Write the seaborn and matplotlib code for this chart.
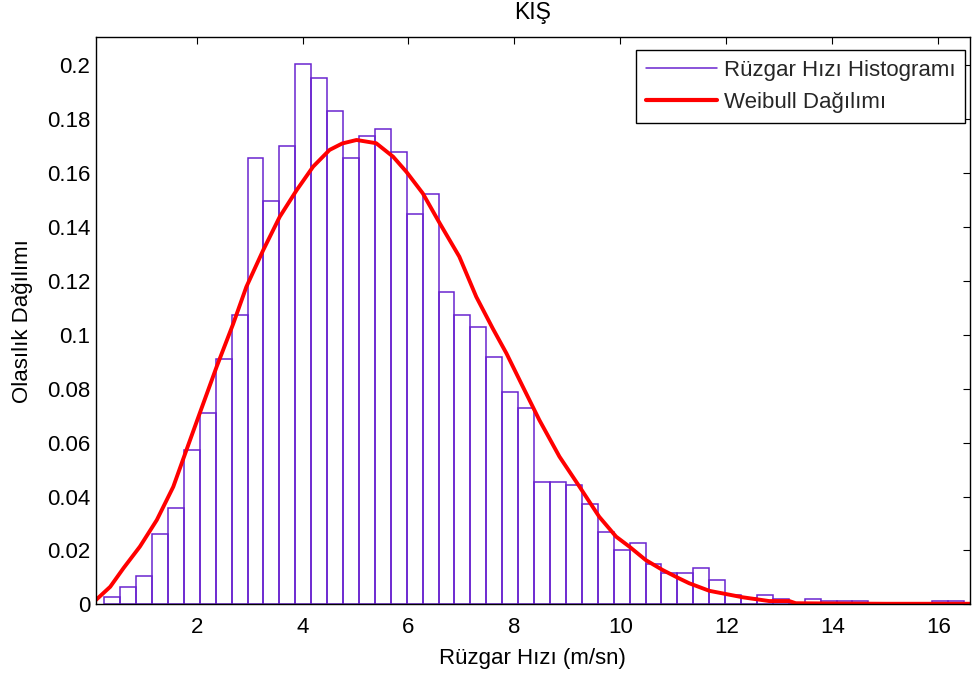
import numpy as np
import pandas as pd
import matplotlib
matplotlib.use("Agg")
import matplotlib.pyplot as plt
from matplotlib.lines import Line2D
import seaborn as sns

# ---------------- data ----------------
title = "KIŞ"
x_label = "Rüzgar Hızı (m/sn)"
y_label = "Olasılık Dağılımı"
legend_labels = ["Rüzgar Hızı Histogramı", "Weibull Dağılımı"]

# histogram: 54 equal bins
bin_first_edge = 0.258
bin_last_edge = 16.485
hist_values = [
    0.0026, 0.0065, 0.0104, 0.0260, 0.0358, 0.0574, 0.0709, 0.0911, 0.1073,
    0.1655, 0.1498, 0.1700, 0.2006, 0.1954, 0.1830, 0.1655, 0.1739, 0.1765,
    0.1680, 0.1447, 0.1524, 0.1159, 0.1075, 0.1030, 0.0919, 0.0789, 0.0730,
    0.0455, 0.0455, 0.0443, 0.0371, 0.0267, 0.0201, 0.0229, 0.0150, 0.0117,
    0.0117, 0.0136, 0.0091, 0.0033, 0.0022, 0.0033, 0.0020, 0.0006, 0.0020,
    0.0013, 0.0013, 0.0013, 0.0004, 0.0000, 0.0000, 0.0000, 0.0013, 0.0013,
]

# Weibull curve
weibull_x = [0.10, 0.37, 0.62, 0.93, 1.25, 1.56, 1.81, 2.06, 2.38, 2.69, 2.94,
             3.26, 3.57, 3.89, 4.20, 4.51, 4.75, 5.02, 5.39, 5.71, 5.96, 6.27,
             6.59, 6.96, 7.28, 7.59, 7.85, 8.16, 8.47, 8.85, 9.23, 9.60, 9.92,
             10.17, 10.48, 10.80, 11.11, 11.30, 11.68, 12.31, 12.81, 13.19,
             13.31, 14.00, 15.00, 16.60]
weibull_y = [0.0016, 0.0065, 0.0134, 0.0214, 0.0313, 0.0436, 0.0573, 0.0709,
             0.0882, 0.1040, 0.1178, 0.1315, 0.1438, 0.1537, 0.1624, 0.1686,
             0.1710, 0.1723, 0.1711, 0.1661, 0.1605, 0.1525, 0.1414, 0.1290,
             0.1141, 0.1024, 0.0931, 0.0807, 0.0684, 0.0548, 0.0436, 0.0325,
             0.0251, 0.0214, 0.0164, 0.0127, 0.0096, 0.0078, 0.0050, 0.0026,
             0.0012, 0.0012, 0.0004, 0.0003, 0.0002, 0.0002]

x_ticks = [2, 4, 6, 8, 10, 12, 14, 16]
x_tick_labels = ["2", "4", "6", "8", "10", "12", "14", "16"]
y_ticks = [0, 0.02, 0.04, 0.06, 0.08, 0.1, 0.12, 0.14, 0.16, 0.18, 0.2]
y_tick_labels = ["0", "0.02", "0.04", "0.06", "0.08", "0.1", "0.12", "0.14",
                 "0.16", "0.18", "0.2"]

# ---------------- style ----------------
sns.set_style("white")
plt.rcParams["font.family"] = ["Liberation Sans", "DejaVu Sans"]
FS = 16
HIST_COLOR = "#6a24d0"
CURVE_COLOR = "#ff0000"

n_bins = len(hist_values)
bin_width = (bin_last_edge - bin_first_edge) / n_bins
bin_centers = [bin_first_edge + bin_width * (i + 0.5) for i in range(n_bins)]
df_hist = pd.DataFrame({"hiz": bin_centers, "olasilik": hist_values})
df_curve = pd.DataFrame({"hiz": weibull_x, "pdf": weibull_y})

fig = plt.figure(figsize=(9.72, 6.79), dpi=100)
ax = fig.add_axes([95.7 / 972, 1 - 604.3 / 679, (970 - 95.7) / 972,
                   (604.3 - 37.3) / 679])

sns.histplot(data=df_hist, x="hiz", weights="olasilik",
             binwidth=bin_width, binrange=(bin_first_edge, bin_last_edge),
             stat="count", fill=False, element="bars", color=HIST_COLOR,
             linewidth=1.1, ax=ax)
for p in ax.patches:
    p.set_edgecolor(HIST_COLOR)

sns.lineplot(data=df_curve, x="hiz", y="pdf", color=CURVE_COLOR,
             linewidth=2.8, ax=ax, legend=False)

ax.set_xlim(0.096, 16.6)
ax.set_ylim(0, 0.2104)
ax.set_xticks(x_ticks)
ax.set_xticklabels(x_tick_labels)
ax.set_yticks(y_ticks)
ax.set_yticklabels(y_tick_labels)

ax.tick_params(axis="both", direction="in", length=5, width=0.8,
               top=True, right=True, labeltop=False, labelright=False,
               labelsize=FS, colors="black")
ax.tick_params(axis="x", pad=9.5)
ax.tick_params(axis="y", pad=4)
for s in ax.spines.values():
    s.set_visible(True)
    s.set_color("black")
    s.set_linewidth(1.0)

ax.set_title(title, fontsize=FS + 0.5, pad=13.5, color="black")
ax.set_xlabel(x_label, fontsize=FS, labelpad=6.5, color="black")
ax.set_ylabel(y_label, fontsize=FS, labelpad=10, color="black")

handles = [Line2D([], [], color=HIST_COLOR, lw=1.1),
           Line2D([], [], color=CURVE_COLOR, lw=3.0)]
leg = ax.legend(handles, legend_labels, loc="upper right",
                bbox_to_anchor=(0.9945, 0.978), borderaxespad=0,
                fontsize=FS, frameon=True, fancybox=False, shadow=False,
                framealpha=1, edgecolor="black", handlelength=3.2,
                handletextpad=0.3, labelspacing=0.5, borderpad=0.45)
leg.get_frame().set_linewidth(1.0)

fig.savefig("out.png", dpi=100)
